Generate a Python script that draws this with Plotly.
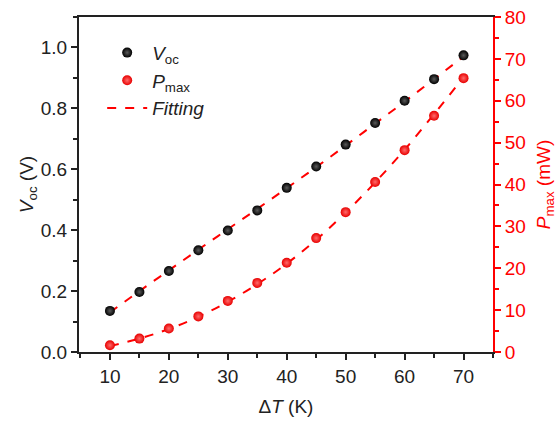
import plotly.graph_objects as go

dT = [10, 15, 20, 25, 30, 35, 40, 45, 50, 55, 60, 65, 70]
voc = [0.135, 0.197, 0.266, 0.334, 0.399, 0.465, 0.539, 0.609, 0.681, 0.752, 0.825, 0.896, 0.974]
pmax = [1.6, 3.2, 5.6, 8.5, 12.2, 16.5, 21.3, 27.2, 33.4, 40.6, 48.2, 56.4, 65.4]
voc_fit = [0.130, 0.200, 0.268, 0.336, 0.403, 0.470, 0.538, 0.607, 0.678, 0.750, 0.822, 0.896, 0.970]
pmax_fit = [1.4, 3.2, 5.5, 8.4, 12.0, 16.2, 21.1, 26.8, 33.3, 40.5, 48.3, 56.8, 65.6]

FONT = "Liberation Sans, Arial, sans-serif"
RED = "#ff0000"
DARK = "#222222"
FS = 19

fig = go.Figure()

fig.add_trace(go.Scatter(
    x=dT, y=voc_fit, mode="lines", name="<i>Fitting</i>", showlegend=False,
    line=dict(color=RED, width=2, dash="dash", shape="spline"), yaxis="y"))
fig.add_trace(go.Scatter(
    x=dT, y=pmax_fit, mode="lines", name="<i>Fitting</i>", showlegend=False,
    line=dict(color=RED, width=2, dash="dash", shape="spline"), yaxis="y2"))

fig.add_trace(go.Scatter(
    x=dT, y=voc, mode="markers", name="<i>V</i><sub>oc</sub>",
    marker=dict(color="#000000", size=10, line=dict(width=0),
                gradient=dict(type="radial", color="#5a5a5a")), yaxis="y"))
fig.add_trace(go.Scatter(
    x=dT, y=pmax, mode="markers", name="<i>P</i><sub>max</sub>",
    marker=dict(color="#e80000", size=10, line=dict(width=0),
                gradient=dict(type="radial", color="#ff6a6a")), yaxis="y2"))
# legend-only entry for fitting
fig.add_trace(go.Scatter(
    x=[None], y=[None], mode="lines", name="<i>Fitting</i>",
    line=dict(color=RED, width=2, dash="dash"), yaxis="y"))

fig.update_layout(
    width=559, height=421,
    margin=dict(l=79, r=66, t=17, b=69, autoexpand=False),
    paper_bgcolor="white", plot_bgcolor="white",
    font=dict(family=FONT, size=FS, color=DARK),
    showlegend=True,
    legend=dict(x=0.056, y=0.95, xanchor="left", yanchor="top",
                bgcolor="rgba(0,0,0,0)", font=dict(size=FS, color=DARK),
                traceorder="normal", itemwidth=40),
    xaxis=dict(
        range=[4.75, 75], tickvals=[10, 20, 30, 40, 50, 60, 70],
        showline=True, linecolor=DARK, linewidth=2, mirror=True,
        ticks="outside", ticklen=6, tickwidth=2, tickcolor=DARK,
        minor=dict(dtick=5, tick0=0, ticks="outside", ticklen=4, tickwidth=2, tickcolor=DARK),
        showgrid=False, zeroline=False, automargin=False,
        tickfont=dict(size=FS),
        title=dict(text="Δ<i>T</i> (K)", font=dict(size=FS), standoff=14),
    ),
    yaxis=dict(
        range=[0, 1.1], tickvals=[0, 0.2, 0.4, 0.6, 0.8, 1.0], tickformat=".1f",
        showline=True, linecolor=DARK, linewidth=2,
        ticks="outside", ticklen=6, tickwidth=2, tickcolor=DARK,
        minor=dict(dtick=0.1, tick0=0, ticks="outside", ticklen=4, tickwidth=2, tickcolor=DARK),
        showgrid=False, zeroline=False, automargin=False,
        tickfont=dict(size=FS),
        title=dict(text="<i>V</i><sub>oc</sub> (V)", font=dict(size=FS), standoff=2),
    ),
    yaxis2=dict(
        range=[0, 80], tickvals=[0, 10, 20, 30, 40, 50, 60, 70, 80],
        overlaying="y", side="right",
        showline=True, linecolor=RED, linewidth=2,
        ticks="outside", ticklen=6, tickwidth=2, tickcolor=RED,
        minor=dict(dtick=5, tick0=0, ticks="outside", ticklen=4, tickwidth=2, tickcolor=RED),
        tickfont=dict(color=RED, size=FS),
        showgrid=False, zeroline=False, automargin=False,
        title=dict(text="<i>P</i><sub>max</sub> (mW)", font=dict(size=FS, color=RED), standoff=12),
    ),
)

fig.write_html("out.html", config={"displayModeBar": False},
               post_script="document.body.style.margin='0';document.body.style.overflow='hidden';")
